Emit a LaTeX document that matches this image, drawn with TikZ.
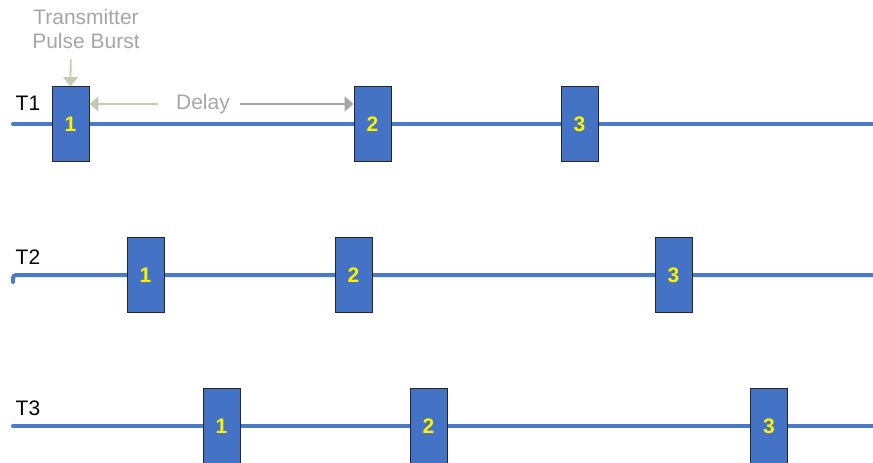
\documentclass[tikz,border=0pt]{standalone}
\usepackage{fontspec}
\setmainfont{Liberation Sans}
\usetikzlibrary{arrows.meta}
\definecolor{bl}{HTML}{4472C4}
\definecolor{ln}{HTML}{4A7AC6}
\definecolor{gr}{HTML}{A6A6A6}
\definecolor{gg}{HTML}{C4CCB0}
\begin{document}
\begin{tikzpicture}[x=1pt,y=-1pt,
  pulse/.style={draw=black!85,line width=0.9pt,fill=bl,minimum width=37pt,minimum height=75pt,inner sep=0pt,
    font=\fontsize{21}{21}\selectfont\bfseries,text=yellow},
  track/.style={draw=ln,line width=4pt,line cap=round},
  lab/.style={font=\fontsize{21}{21}\selectfont,inner sep=0pt},
  glab/.style={font=\fontsize{21}{24}\selectfont,text=gr,inner sep=0pt,align=center},
  tip/.style={-{Triangle[length=9pt,width=15pt]},line width=1.8pt}]
\useasboundingbox (0,0) rectangle (873,463);
% T1
\coordinate (s1) at (13,124); \coordinate (e1) at (880,124);
\draw[track] (s1) -- (e1);
\node[pulse] (p11) at (70.5,124) {1};
\node[pulse] (p12) at (372.5,124) {2};
\node[pulse] (p13) at (579.5,124) {3};
\node[lab] (t1) at (28,103) {T1};
% T2
\coordinate (s2) at (13,275); \coordinate (e2) at (880,275);
\draw[track,rounded corners=3pt] (13,282) -- (s2) -- (e2);
\node[pulse] (p21) at (145.5,275) {1};
\node[pulse] (p22) at (353.5,275) {2};
\node[pulse] (p23) at (673.5,275) {3};
\node[lab] (t2) at (28,257) {T2};
% T3
\coordinate (s3) at (13,426); \coordinate (e3) at (880,426);
\draw[track] (s3) -- (e3);
\node[pulse] (p31) at (221.5,426) {1};
\node[pulse] (p32) at (428.5,426) {2};
\node[pulse] (p33) at (769,426) {3};
\node[lab] (t3) at (28,408) {T3};
% annotations
\node[glab] (tpb) at (86,29) {Transmitter\\Pulse Burst};
\coordinate (ta) at (70.7,59);
\draw[tip,draw=gg,fill=gg] (ta) -- (p11.north);
\node[glab] (dl) at (203,104) {Delay};
\coordinate (dla) at (158,104);
\coordinate (dlb) at (240,104);
\draw[tip,draw=gg] (dla) -- (p11.east |- dla);
\draw[tip,draw=gr] (dlb) -- (p12.west |- dlb);
\end{tikzpicture}
\end{document}
